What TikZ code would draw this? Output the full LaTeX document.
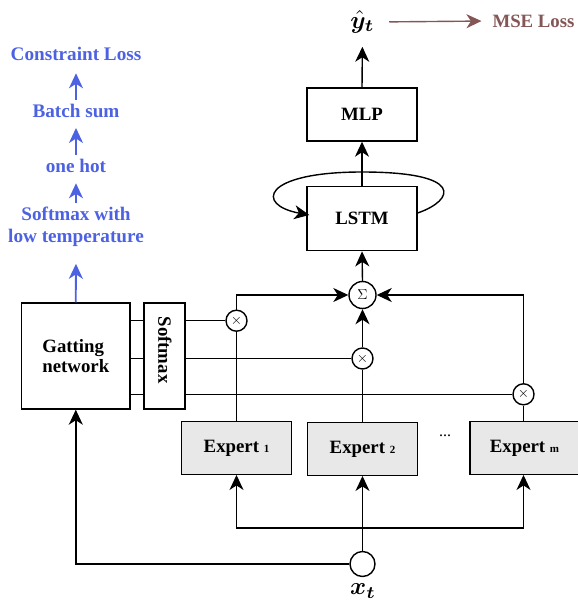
\documentclass[tikz,border=0pt]{standalone}
\usepackage{fontspec}
\setmainfont{Liberation Serif}
\usepackage{bm}
\usetikzlibrary{arrows.meta}
\definecolor{cblue}{RGB}{77,98,227}
\definecolor{cbrown}{RGB}{132,86,86}
\definecolor{cgray}{RGB}{232,232,232}
\begin{document}
\begin{tikzpicture}[x=1pt,y=-1pt, line width=1.4pt,
  arr/.style={-{Stealth[length=15pt,width=14pt,inset=4.5pt]}},
  bigtxt/.style={font=\fontsize{18.8}{19.5}\selectfont\bfseries},
  bluetxt/.style={font=\fontsize{19.2}{22}\selectfont\bfseries, text=cblue, align=center},
  box/.style={draw, bigtxt, inner sep=0pt},
  expbox/.style={box, fill=cgray, minimum width=109.5pt, minimum height=52.5pt},
  opcirc/.style={circle, draw, fill=white, inner sep=0pt, minimum size=21pt, font=\fontsize{15}{15}\selectfont},
  mathlbl/.style={inner sep=0pt, scale=2.45},
  bluearrow/.style={arr, draw=cblue, color=cblue, line width=1.8pt}
]
\useasboundingbox (0,0) rectangle (577,601);

% blue chain
\node[bluetxt] (closs) at (76,54) {Constraint Loss};
\node[bluetxt] (bsum) at (76,110.7) {Batch sum};
\node[bluetxt] (onehot) at (76,166) {one hot};
\node[bluetxt] (smlt) at (76,227) {Softmax with\\low temperature};

% gating and softmax
\node[box, align=left, minimum width=108.5pt, minimum height=106pt] (gat) at (75.8,356) {Gatting\\network};
\node[draw, minimum width=41pt, minimum height=106pt, inner sep=0pt] (soft) at (164.5,356) {};
\node[bigtxt, rotate=-90] (softlbl) at (165,350) {Softmax};

% top part
\node[mathlbl] (yhat) at (362.5,22) {$\hat{\bm{y}}_{\bm{t}}$};
\node[bigtxt, text=cbrown] (mse) at (533.5,21) {MSE Loss};
\node[box, minimum width=110pt, minimum height=53pt] (mlp) at (362,114.5) {MLP};
\node[box, minimum width=110pt, minimum height=64pt] (lstm) at (362,218.7) {LSTM};
\node[circle, draw, fill=white, inner sep=0pt, minimum size=27pt, font=\fontsize{15}{15}\selectfont] (sig) at (362.5,295) {$\Sigma$};

% multipliers
\node[opcirc] (m1) at (236.5,320.7) {$\times$};
\node[opcirc] (m2) at (362.5,358.5) {$\times$};
\node[opcirc] (mm) at (523.5,394.3) {$\times$};

% experts
\node[expbox] (e1) at (236.5,448) {Expert {\fontsize{11}{11}\selectfont 1}};
\node[expbox] (e2) at (362.5,449) {Expert {\fontsize{11}{11}\selectfont 2}};
\node[expbox, minimum width=109pt] (em) at (524.5,448) {Expert {\fontsize{11}{11}\selectfont m}};
\node[font=\fontsize{16}{16}\selectfont] (dots) at (445,436) {...};

% input
\node[circle, draw, fill=white, inner sep=0pt, minimum size=25pt] (xin) at (362.5,564) {};
\node[mathlbl] (xlbl) at (363,591) {$\bm{x}_{\bm{t}}$};
\coordinate (bus) at (362.5,528);

% blue arrows
\draw[bluearrow, shorten >=13pt] (gat.north) -- (smlt.south);
\draw[bluearrow, shorten >=6.5pt] (smlt.north) -- (onehot.south);
\draw[bluearrow, shorten >=6.5pt] (onehot.north) -- (bsum.south);
\draw[bluearrow, shorten >=8.5pt] (bsum.north) -- (closs.south);

% top arrows
\draw[arr, shorten >=12pt] (mlp.north) -- (yhat.south);
\draw[arr, draw=cbrown, color=cbrown, shorten <=13pt, shorten >=7pt] (yhat.east) -- (mse.west);
\draw[arr] (lstm.north) -- (mlp.south);
\draw[arr] (sig.north) -- (lstm.south);
\draw[arr] ([yshift=5.7pt]lstm.east) .. controls (455,200) and (465,172) .. (362,172)
  .. controls (262,172) and (255,205) .. ([xshift=3pt,yshift=3.7pt]lstm.west);

% gating to softmax
\foreach \yy in {320.7,358.5,394.3}{
  \draw (gat.east |- 0,\yy) -- (soft.west |- 0,\yy);
}
\draw (soft.east |- m1) -- (m1.west);
\draw (soft.east |- m2) -- (m2.west);
\draw (soft.east |- mm) -- (mm.west);

% experts to multipliers to sum
\draw (e1.north -| m1) -- (m1.south);
\draw (e2.north -| m2) -- (m2.south);
\draw (em.north -| mm) -- (mm.south);
\draw[arr] (m1.north) |- (sig.west);
\draw[arr] (m2.north) -- (sig.south);
\draw[arr] (mm.north) |- (sig.east);

% inputs
\draw[arr] (xin.north) -- (e2.south);
\draw[arr] (bus) -| (e1.south);
\draw[arr] (bus) -| (em.south -| mm);
\draw[arr] (xin.west) -| (gat.south);
\end{tikzpicture}
\end{document}
